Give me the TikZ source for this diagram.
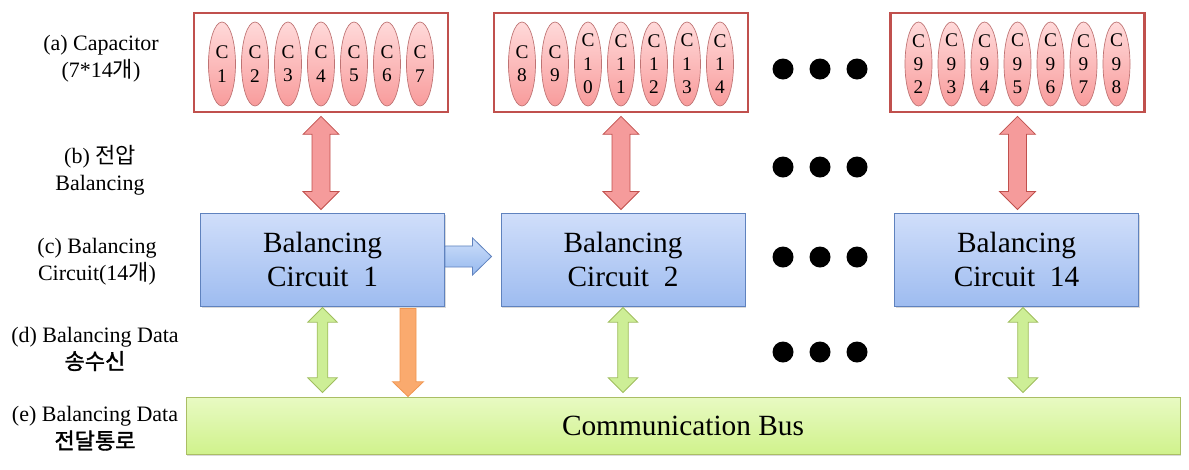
\documentclass[tikz,border=0pt]{standalone}
\usepackage{fontspec}
\setmainfont{Liberation Serif}
\newfontfamily\kr{Noto Sans CJK KR}
\newfontfamily\krb[FakeBold=1.6]{Noto Sans CJK KR}
\usetikzlibrary{shapes.geometric,calc,shadows}

\definecolor{capred}{RGB}{192,80,77}
\definecolor{cellline}{RGB}{190,115,115}
\definecolor{cellT}{RGB}{255,218,218}
\definecolor{cellB}{RGB}{248,155,155}
\definecolor{redE}{RGB}{245,155,155}
\definecolor{redM}{RGB}{255,215,215}
\definecolor{circline}{RGB}{95,130,190}
\definecolor{circT}{RGB}{208,222,250}
\definecolor{circB}{RGB}{158,188,240}
\definecolor{busline}{RGB}{170,190,100}
\definecolor{busT}{RGB}{232,250,195}
\definecolor{busM}{RGB}{242,252,218}
\definecolor{busB}{RGB}{208,242,140}
\definecolor{grnline}{RGB}{160,190,95}
\definecolor{grnE}{RGB}{205,238,150}
\definecolor{grnM}{RGB}{236,250,212}
\definecolor{orgline}{RGB}{240,150,80}
\definecolor{orgE}{RGB}{250,170,110}
\definecolor{orgM}{RGB}{253,215,180}
\definecolor{bluT}{RGB}{205,222,250}
\definecolor{bluB}{RGB}{150,185,238}

\tikzset{every picture/.style={line width=0.75pt}}
\tikzset{
  capbox/.style={draw=capred,line width=2pt,fill=white,minimum width=190.5pt,minimum height=74.25pt,inner sep=0pt},
  cell/.style={ellipse,draw=cellline,line width=0.5pt,top color=cellT,bottom color=cellB,minimum width=20.25pt,minimum height=63pt,inner sep=0pt},
  celltext/.style={align=center,inner sep=0pt,font=\fontsize{14.5}{17.5}\selectfont},
  circbox/.style={draw=circline,top color=circT,bottom color=circB,minimum width=183pt,minimum height=69.75pt,align=center,font=\fontsize{22}{26}\selectfont,drop shadow={shadow xshift=1pt,shadow yshift=-1.2pt,opacity=.3}},
  busbox/.style={draw=busline,top color=busT,middle color=busM,bottom color=busB,minimum width=745.5pt,minimum height=42.75pt,font=\fontsize{22}{26}\selectfont,drop shadow={shadow xshift=1pt,shadow yshift=-1.2pt,opacity=.3}},
  sidetext/.style={align=center,inner sep=0pt,font=\fontsize{16.5}{20.25}\selectfont},
  redarr/.style={draw=capred,line width=0.6pt,left color=redE,middle color=redM,right color=redE},
  grnarr/.style={draw=grnline,line width=0.6pt,left color=grnE,middle color=grnM,right color=grnE},
  orgarr/.style={draw=orgline,line width=0.6pt,left color=orgE,middle color=orgM,right color=orgE},
  bluarr/.style={draw=circline,line width=0.6pt,top color=bluT,bottom color=bluB}
}

% fat arrows: #1 style, #2 start, #3 end, #4 half shaft, #5 half head, #6 head length
\newcommand\vdarr[6]{%
  \path[#1] let \p1=(#2), \p2=(#3) in
    (\x1,\y1) -- (\x1+#5,\y1+#6) -- (\x1+#4,\y1+#6) -- (\x1+#4,\y2-#6) -- (\x1+#5,\y2-#6)
    -- (\x1,\y2) -- (\x1-#5,\y2-#6) -- (\x1-#4,\y2-#6) -- (\x1-#4,\y1+#6) -- (\x1-#5,\y1+#6) -- cycle;}
\newcommand\vsarr[6]{%
  \path[#1] let \p1=(#2), \p2=(#3) in
    (\x1-#4,\y1) -- (\x1+#4,\y1) -- (\x1+#4,\y2-#6) -- (\x1+#5,\y2-#6) -- (\x1,\y2)
    -- (\x1-#5,\y2-#6) -- (\x1-#4,\y2-#6) -- cycle;}
\newcommand\hsarr[6]{%
  \path[#1] let \p1=(#2), \p2=(#3) in
    (\x1,\y1+#4) -- (\x2-#6,\y1+#4) -- (\x2-#6,\y1+#5) -- (\x2,\y1) -- (\x2-#6,\y1-#5)
    -- (\x2-#6,\y1-#4) -- (\x1,\y1-#4) -- cycle;}

\begin{document}
\begin{tikzpicture}[x=0.75pt,y=0.75pt,yscale=-1,xscale=1]
\useasboundingbox (0,0) rectangle (1189,469);

%Capacitor boxes
\node[capbox] (cap1) at (321,62.5) {};
\node[capbox] (cap2) at (621,62.5) {};
\node[capbox] (cap3) at (1017.5,62.5) {};
\foreach \b/\labs in {1/{C\\1,C\\2,C\\3,C\\4,C\\5,C\\6,C\\7},
                      2/{C\\8,C\\9,C\\1\\0,C\\1\\1,C\\1\\2,C\\1\\3,C\\1\\4},
                      3/{C\\9\\2,C\\9\\3,C\\9\\4,C\\9\\5,C\\9\\6,C\\9\\7,C\\9\\8}}
  \foreach \lab [count=\k] in \labs {
    \node[cell] (cell\b-\k) at ($(cap\b.center)+({(\k-4)*33},1.5)$) {};
    \node[celltext] (lab\b-\k) at (cell\b-\k) {\lab};
  }

%Balancing circuits
\node[circbox] (bc1) at (322.5,259.5) {Balancing\\Circuit\ \ 1};
\node[circbox] (bc2) at (623,259.5) {Balancing\\Circuit\ \ 2};
\node[circbox] (bc3) at (1016.5,259.5) {Balancing\\Circuit\ \ 14};

%Bus
\node[busbox] (bus) at (683,425.5) {Communication Bus};

%Arrows
\vdarr{redarr}{$(cap1.south)+(0,3)$}{$(bc1.north)+(0,-3)$}{6.75pt}{13.5pt}{13.5pt}
\vdarr{redarr}{$(cap2.south)+(0,3)$}{$(bc2.north)+(0,-3)$}{6.75pt}{13.5pt}{13.5pt}
\vdarr{redarr}{$(cap3.south)+(0,3)$}{$(bc3.north)+(0,-3)$}{6.75pt}{13.5pt}{13.5pt}
\vdarr{grnarr}{$(bc1.south)+(0,1)$}{$(bc1.south |- bus.north)+(0,-4)$}{4pt}{11pt}{11pt}
\vdarr{grnarr}{$(bc2.south)+(0,1)$}{$(bc2.south |- bus.north)+(0,-4)$}{4pt}{11pt}{11pt}
\vdarr{grnarr}{$(bc3.south)+(6.5,1)$}{$(bc3.south |- bus.north)+(0,-4)$}{4pt}{11pt}{11pt}
\vsarr{orgarr}{$(bc1.south east)+(-37,2)$}{$(bc1.south east |- bus.north)$}{6pt}{11.5pt}{11pt}
\hsarr{bluarr}{$(bc1.east)+(0,-3)$}{$(bc2.west)+(-9,0)$}{7.9pt}{13.9pt}{14.2pt}

%Dots
\foreach \y in {69,167,257,352}
  \foreach \x in {783,820,857}
    \fill (\x,\y) circle (10.5);

% Text Node
\node[sidetext] (la) at (101,58.5) {(a) Capacitor\\(7*14{\kr 개})};
\node[sidetext] (lb) at (100,170.5) {(b) {\kr 전압}\\Balancing};
\node[sidetext] (lc) at (97,261.5) {(c) Balancing\\Circuit(14{\kr 개})};
\node[sidetext] (ld) at (95,349) {(d) Balancing Data\\{\krb 송수신}};
\node[sidetext] (le) at (95,428.5) {(e) Balancing Data\\{\krb 전달통로}};

\end{tikzpicture}
\end{document}
